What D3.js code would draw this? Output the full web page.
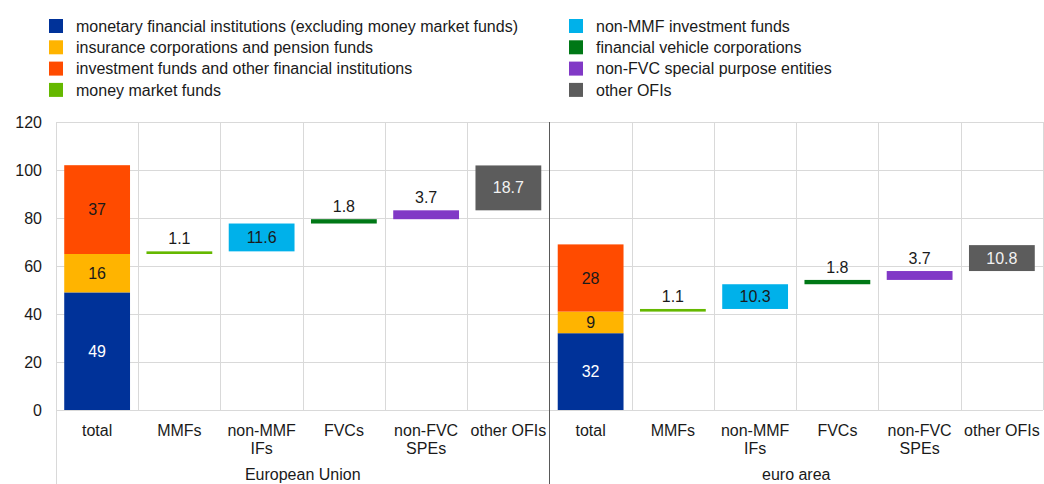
<!DOCTYPE html>
<html lang="en">
<head>
<meta charset="UTF-8">
<title>Financial sector breakdown</title>
<style>
    body { margin: 0; background: #fff; }
    svg { display: block; font-family: "Liberation Sans", Arial, sans-serif; }
</style>
</head>
<body>
<div id="container">
    <svg width="1044" height="484"></svg>
</div>
<script src="https://cdn.jsdelivr.net/npm/d3@7"></script>
<script>
    // data
    const groups = ['European Union', 'euro area'];
    const categories = ['total', 'MMFs', 'non-MMF IFs', 'FVCs', 'non-FVC SPEs', 'other OFIs'];
    const categoryLines = [['total'], ['MMFs'], ['non-MMF', 'IFs'], ['FVCs'], ['non-FVC', 'SPEs'], ['other OFIs']];

    const seriesNames = [
        'monetary financial institutions (excluding money market funds)',
        'insurance corporations and pension funds',
        'investment funds and other financial institutions',
        'money market funds',
        'non-MMF investment funds',
        'financial vehicle corporations',
        'non-FVC special purpose entities',
        'other OFIs'
    ];
    const seriesColors = ['#003299', '#ffb400', '#ff4b00', '#65b800', '#00b1ea', '#007816', '#8139c6', '#5c5c5c'];

    // stacked "total" bar: MFIs, ICPFs, IFs and OFIs
    const totalEU = [49, 16, 37];
    const totalEA = [32, 9, 28];
    // breakdown of investment funds and other financial institutions
    const breakdownEU = [1.1, 11.6, 1.8, 3.7, 18.7];
    const breakdownEA = [1.1, 10.3, 1.8, 3.7, 10.8];

    const yTicks = [0, 20, 40, 60, 80, 100, 120];

    const svg = d3.select('svg');
    const plotLeft = 56, plotRight = 1043, plotTop = 122, plotBottom = 410;
    const fontSize = 16;

    const keys = [];
    groups.forEach(g => categories.forEach(c => keys.push(g + '|' + c)));

    const x = d3.scaleBand()
        .domain(keys)
        .range([plotLeft, plotRight])
        .paddingInner(0.2)
        .paddingOuter(0.1);
    const step = x.step();

    const y = d3.scaleLinear()
        .domain([0, 120])
        .range([plotBottom, plotTop]);

    // gridlines
    const grid = svg.append('g').attr('stroke', '#d9d9d9').attr('stroke-width', 1);
    yTicks.forEach(t => {
        grid.append('line')
            .attr('x1', plotLeft).attr('x2', plotRight)
            .attr('y1', Math.round(y(t)) + 0.5).attr('y2', Math.round(y(t)) + 0.5);
    });
    keys.forEach((k, i) => {
        if (i === 0 || i === categories.length) return;
        const gx = Math.round(x(k) - step * 0.1) + 0.5;
        grid.append('line')
            .attr('x1', gx).attr('x2', gx)
            .attr('y1', y(120)).attr('y2', y(0));
    });
    const lastX = Math.round(plotRight) + 0.5;
    grid.append('line').attr('x1', lastX).attr('x2', lastX).attr('y1', y(120)).attr('y2', y(0));

    // left axis line runs down through the label area
    svg.append('line')
        .attr('x1', plotLeft + 0.5).attr('x2', plotLeft + 0.5)
        .attr('y1', y(120)).attr('y2', 484)
        .attr('stroke', '#d9d9d9');

    // y axis labels
    svg.append('g')
        .selectAll('text')
        .data(yTicks)
        .enter()
        .append('text')
        .attr('x', plotLeft - 14)
        .attr('y', d => y(d))
        .attr('dy', '0.35em')
        .attr('text-anchor', 'end')
        .attr('font-size', fontSize)
        .attr('fill', '#1a1a1a')
        .text(d => d);

    const bars = svg.append('g');
    const labels = svg.append('g').attr('font-size', fontSize).attr('text-anchor', 'middle');

    function drawGroup(group, totals, breakdown) {
        // stacked total
        let acc = 0;
        totals.forEach((v, i) => {
            const x0 = x(group + '|total');
            bars.append('rect')
                .attr('x', x0)
                .attr('y', y(acc + v))
                .attr('width', x.bandwidth())
                .attr('height', y(acc) - y(acc + v))
                .attr('fill', seriesColors[i]);
            labels.append('text')
                .attr('x', x0 + x.bandwidth() / 2)
                .attr('y', y(acc + v / 2))
                .attr('dy', '0.35em')
                .attr('fill', i === 0 ? '#ffffff' : '#1a1a1a')
                .text(v);
            acc += v;
        });

        // waterfall of the last segment
        let base = totals[0] + totals[1];
        breakdown.forEach((v, i) => {
            const k = group + '|' + categories[i + 1];
            const x0 = x(k);
            bars.append('rect')
                .attr('x', x0)
                .attr('y', y(base + v))
                .attr('width', x.bandwidth())
                .attr('height', y(base) - y(base + v))
                .attr('fill', seriesColors[i + 3]);
            const inside = v > 5;
            labels.append('text')
                .attr('x', x0 + x.bandwidth() / 2)
                .attr('y', inside ? y(base + v / 2) : y(base + v) - 13)
                .attr('dy', '0.35em')
                .attr('fill', inside && i === 4 ? '#f2f2f2' : '#1a1a1a')
                .text(v.toFixed(1));
            base += v;
        });
    }

    drawGroup(groups[0], totalEU, breakdownEU);
    drawGroup(groups[1], totalEA, breakdownEA);

    // zero line
    svg.append('line')
        .attr('x1', plotLeft).attr('x2', plotRight)
        .attr('y1', Math.round(y(0)) + 0.5).attr('y2', Math.round(y(0)) + 0.5)
        .attr('stroke', '#d9d9d9');

    // category labels
    const catLabels = svg.append('g').attr('font-size', fontSize).attr('text-anchor', 'middle').attr('fill', '#1a1a1a');
    keys.forEach((k, i) => {
        const lines = categoryLines[i % categories.length];
        const t = catLabels.append('text')
            .attr('x', x(k) + x.bandwidth() / 2)
            .attr('y', 436);
        lines.forEach((l, j) => {
            t.append('tspan')
                .attr('x', x(k) + x.bandwidth() / 2)
                .attr('dy', j === 0 ? 0 : 18)
                .text(l);
        });
    });

    // group labels
    groups.forEach(g => {
        const first = x(g + '|' + categories[0]) - step * 0.1;
        const last = x(g + '|' + categories[categories.length - 1]) + x.bandwidth() + step * 0.1;
        catLabels.append('text')
            .attr('x', (first + last) / 2)
            .attr('y', 480)
            .text(g);
    });

    // group separator
    const sepX = Math.round(x(groups[1] + '|total') - step * 0.1) + 0.5;
    svg.append('line')
        .attr('x1', sepX).attr('x2', sepX)
        .attr('y1', y(120)).attr('y2', 484)
        .attr('stroke', '#595959')
        .attr('stroke-width', 1);

    // legend, two columns of four
    const legend = svg.append('g').attr('font-size', fontSize).attr('fill', '#1a1a1a');
    seriesNames.forEach((name, i) => {
        const col = Math.floor(i / 4), row = i % 4;
        const lx = col === 0 ? 49 : 569;
        const ly = 26 + row * 21.3;
        legend.append('rect')
            .attr('x', lx)
            .attr('y', ly - 7)
            .attr('width', 14)
            .attr('height', 14)
            .attr('fill', seriesColors[i]);
        legend.append('text')
            .attr('x', lx + 27)
            .attr('y', ly)
            .attr('dy', '0.35em')
            .text(name);
    });
</script>
</body>
</html>
